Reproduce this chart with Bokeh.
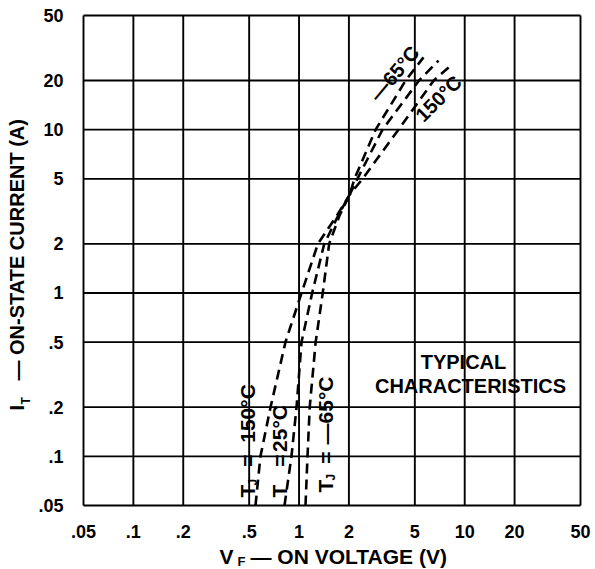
import math
from bokeh.plotting import figure
from bokeh.models import FixedTicker, Label
from bokeh.embed import file_html
from bokeh.resources import INLINE

# ---------------- data ----------------
tick_values = [0.05, 0.1, 0.2, 0.5, 1, 2, 5, 10, 20, 50]
tick_labels = [".05", ".1", ".2", ".5", "1", "2", "5", "10", "20", "50"]

# TJ = 150 C
i_150 = [0.05, 0.1, 0.2, 0.5, 1.0, 2.0, 3.0, 4.0, 5.0, 10.0, 20.0, 25.1]
v_150 = [0.546, 0.585, 0.673, 0.828, 1.035, 1.30, 1.70, 2.02, 2.42, 3.98, 6.5, 8.4]

# TJ = 25 C
i_25 = [0.05, 0.1, 0.2, 0.5, 1.0, 2.0, 3.0, 4.0, 5.0, 10.0, 20.0, 26.5]
v_25 = [0.817, 0.90, 0.966, 1.035, 1.20, 1.42, 1.73, 2.02, 2.25, 3.19, 5.3, 6.95]

# TJ = -65 C
i_m65 = [0.05, 0.1, 0.2, 0.5, 1.0, 2.0, 3.0, 4.0, 5.0, 10.0, 20.0, 27.7]
v_m65 = [1.094, 1.125, 1.16, 1.26, 1.39, 1.52, 1.76, 2.02, 2.16, 2.90, 4.4, 5.64]

# ---------------- layout ----------------
W, H = 595, 569
BX0, BX1, BY0, BY1 = 83, 580, 15, 505      # chart box in pixels
LO, HI = 0.05, 50.0
DEC = math.log10(HI / LO)
PPX = (BX1 - BX0) / DEC
PPY = (BY1 - BY0) / DEC

# the frame covers the whole canvas; ranges chosen so the box [LO, HI]^2 sits at BX/BY
x_start = 10 ** (math.log10(LO) - BX0 / PPX)
x_end = 10 ** (math.log10(HI) + (W - BX1) / PPX)
y_start = 10 ** (math.log10(LO) - (H - BY1) / PPY)
y_end = 10 ** (math.log10(HI) + BY0 / PPY)


def dx(px):
    return 10 ** (math.log10(LO) + (px - BX0) / PPX)


def dy(py):
    return 10 ** (math.log10(LO) + (BY1 - py) / PPY)


FONT = "Liberation Sans"

p = figure(width=W, height=H, x_axis_type="log", y_axis_type="log",
           x_range=(x_start, x_end), y_range=(y_start, y_end),
           output_backend="svg", toolbar_location=None,
           min_border=0, min_border_left=0, min_border_right=0,
           min_border_top=0, min_border_bottom=0)
p.background_fill_color = "white"
p.border_fill_color = "white"
p.outline_line_color = None
p.xgrid.visible = False
p.ygrid.visible = False

overrides = {}
for v, t in zip(tick_values, tick_labels):
    overrides[float(v)] = t
    overrides[str(v)] = t

for ax in (p.xaxis[0], p.yaxis[0]):
    ax.fixed_location = LO
    ax.bounds = (LO, HI)
    ax.ticker = FixedTicker(ticks=tick_values)
    ax.major_label_overrides = overrides
    ax.major_tick_line_color = None
    ax.minor_tick_line_color = None
    ax.axis_line_color = None
    ax.major_label_text_font = FONT
    ax.major_label_text_font_style = "bold"
    ax.major_label_text_font_size = "18px"
    ax.major_label_text_color = "black"
p.xaxis[0].major_label_standoff = 13
p.yaxis[0].major_label_standoff = 14

# grid lines at the tick values (the outer ones form the box)
n = len(tick_values)
p.segment(x0=tick_values, y0=[LO] * n, x1=tick_values, y1=[HI] * n,
          line_color="black", line_width=1.9)
p.segment(x0=[LO] * n, y0=tick_values, x1=[HI] * n, y1=tick_values,
          line_color="black", line_width=1.9)

for vv, ii in ((v_150, i_150), (v_25, i_25), (v_m65, i_m65)):
    p.line(vv, ii, line_color="black", line_width=2.6, line_dash="10 6")


def lab(px, py, text, size, angle=0.0, align="left", baseline="middle"):
    p.add_layout(Label(x=dx(px), y=dy(py), text=text, angle=angle,
                       text_font=FONT, text_font_style="bold",
                       text_font_size=f"{size}px", text_color="black",
                       text_align=align, text_baseline=baseline))


R90 = math.pi / 2

# axis titles
lab(16, 410, "I", 20, R90)
lab(25, 404, "T", 12, R90)
lab(16, 380, "\u2014 ON-STATE CURRENT (A)", 20, R90)

lab(219, 556, "V", 21)
lab(237, 561, "F", 13)
lab(250, 556, "\u2014 ON VOLTAGE (V)", 21)

# curve labels near the bottom
lab(247, 497, "T", 21, R90)
lab(252, 485, "J", 12, R90)
lab(247, 460, "=", 21, R90, "center")
lab(247, 413, "150\u00b0C", 21, R90, "center")

lab(279, 497, "T", 21, R90)
lab(279, 460, "=", 21, R90, "center")
lab(279, 428, "25\u00b0C", 21, R90, "center")

lab(325, 492, "T", 21, R90)
lab(330, 480, "J", 12, R90)
lab(325, 457, "=", 21, R90, "center")
lab(325, 410, "\u201465\u00b0C", 21, R90, "center")

# curve labels near the top
lab(394, 73, "\u201465\u00b0C", 20, math.radians(50), "center")
lab(438, 98, "150\u00b0C", 20, math.radians(45), "center")

# note
lab(463, 361, "TYPICAL", 20, 0, "center")
lab(470, 385, "CHARACTERISTICS", 20, 0, "center")

open("out.html", "w").write(file_html(p, INLINE))
